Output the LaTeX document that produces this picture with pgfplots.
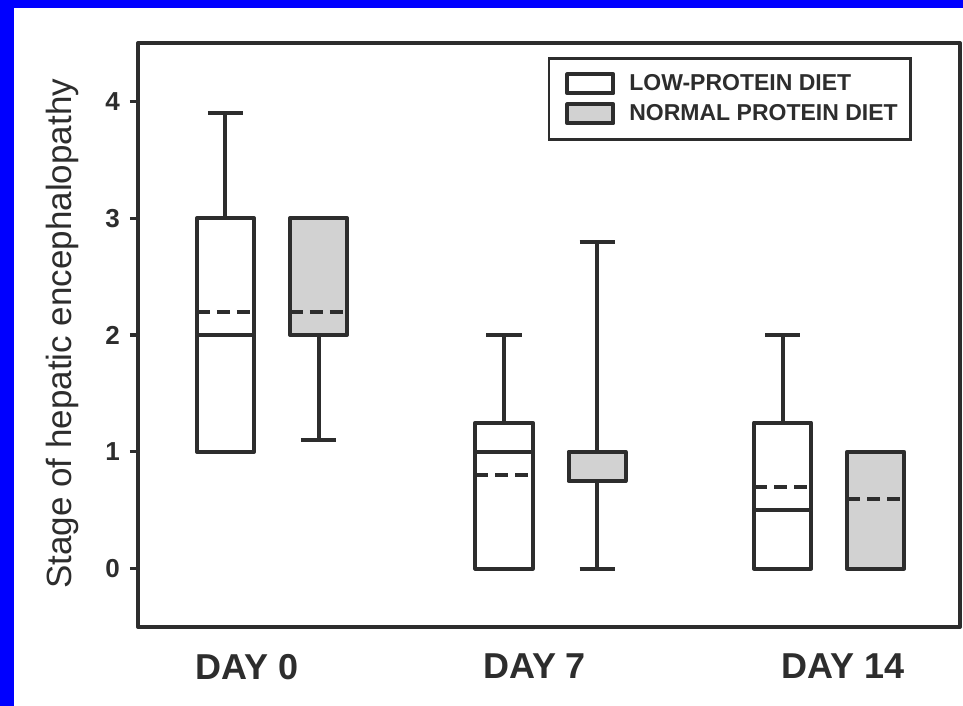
\documentclass[border=0pt]{standalone}
\usepackage{fontspec}
\setmainfont{Liberation Sans}
\usepackage{pgfplots}
\pgfplotsset{compat=1.18}
\usepgfplotslibrary{statistics}
\definecolor{ink}{RGB}{45,45,45}
\definecolor{boxfill}{RGB}{210,210,210}
\definecolor{frameblue}{RGB}{0,0,255}
\begin{document}
\begin{tikzpicture}
\fill[white] (-69pt,-39.5pt) rectangle (412.5pt,313.5pt);
\fill[frameblue] (-69pt,-39.5pt) rectangle (-62pt,313.5pt);
\fill[frameblue] (-69pt,309.5pt) rectangle (412.5pt,313.5pt);
\begin{axis}[
  at={(0,0)}, anchor=south west,
  scale only axis, width=411pt, height=292pt,
  xmin=-0.481, xmax=2.470, ymin=-0.5, ymax=4.5,
  axis line style={draw=ink, line width=2pt, line join=round},
  xtick={-0.09,0.943,2.05}, xticklabels={DAY 0, DAY 7, DAY 14},
  ytick={0,1,2,3,4},
  ytick pos=left,
  tick align=outside, major tick length=4pt,
  xtick style={draw=none},
  ytick style={draw=ink, line width=1.6pt},
  yticklabel style={font=\bfseries\fontsize{13}{15}\selectfont, text=ink, xshift=-1.5pt},
  xticklabel style={font=\bfseries\fontsize{18}{21}\selectfont, text=ink, yshift=-6pt},
  /pgf/number format/assume math mode=true,
  ylabel={Stage of hepatic encephalopathy},
  ylabel style={font=\fontsize{17.5}{20}\selectfont, text=ink, at={(axis description cs:-0.0925,0.502)}, anchor=center},
  boxplot/draw direction=y,
  clip=false,
  legend cell align=left,
  legend style={at={(0.9416,0.976)}, anchor=north east, draw=ink, line width=1.3pt, fill=white,
    font=\bfseries\fontsize{11.5}{13.5}\selectfont, text=ink, inner xsep=4.5pt, inner ysep=6pt, row sep=1.5pt,
    /tikz/every odd column/.append style={column sep=5pt}},
]
\addlegendimage{legend image code/.code={\path (-4pt,0pt); \draw[line width=2pt, draw=ink, fill=white, line join=round] (0pt,-4.75pt) rectangle (23pt,4.75pt);}}
\addlegendentry{LOW-PROTEIN DIET}
\addlegendimage{legend image code/.code={\path (-4pt,0pt); \draw[line width=2pt, draw=ink, fill=boxfill, line join=round] (0pt,-4.75pt) rectangle (23pt,4.75pt);}}
\addlegendentry{NORMAL PROTEIN DIET}

% DAY 0
\addplot[forget plot, draw=ink, fill=white, line width=2pt, line join=round,
  boxplot prepared={draw position=-0.167, lower whisker=1, lower quartile=1, median=2, upper quartile=3, upper whisker=3.9, box extend=0.205, whisker extend=0.126}] coordinates {};
\addplot[forget plot, draw=ink, fill=boxfill, line width=2pt, line join=round,
  boxplot prepared={draw position=0.167, lower whisker=1.1, lower quartile=2, median=2, upper quartile=3, upper whisker=3, box extend=0.205, whisker extend=0.126}] coordinates {};
% DAY 7
\addplot[forget plot, draw=ink, fill=white, line width=2pt, line join=round,
  boxplot prepared={draw position=0.833, lower whisker=0, lower quartile=0, median=1, upper quartile=1.25, upper whisker=2, box extend=0.205, whisker extend=0.126}] coordinates {};
\addplot[forget plot, draw=ink, fill=boxfill, line width=2pt, line join=round,
  boxplot prepared={draw position=1.167, lower whisker=0, lower quartile=0.75, median=1, upper quartile=1, upper whisker=2.8, box extend=0.205, whisker extend=0.126}] coordinates {};
% DAY 14
\addplot[forget plot, draw=ink, fill=white, line width=2pt, line join=round,
  boxplot prepared={draw position=1.833, lower whisker=0, lower quartile=0, median=0.5, upper quartile=1.25, upper whisker=2, box extend=0.205, whisker extend=0.126}] coordinates {};
\addplot[forget plot, draw=ink, fill=boxfill, line width=2pt, line join=round,
  boxplot prepared={draw position=2.167, lower whisker=0, lower quartile=0, median=0, upper quartile=1, upper whisker=1, box extend=0.205, whisker extend=0.126}] coordinates {};

% means (dashed)
\addplot[forget plot, draw=ink, line width=2pt, dash pattern=on 6.5pt off 3.5pt] coordinates {(-0.2695,2.2) (-0.0645,2.2)};
\addplot[forget plot, draw=ink, line width=2pt, dash pattern=on 6.5pt off 3.5pt] coordinates {(0.0645,2.2) (0.2695,2.2)};
\addplot[forget plot, draw=ink, line width=2pt, dash pattern=on 6.5pt off 3.5pt] coordinates {(0.7305,0.8) (0.9355,0.8)};
\addplot[forget plot, draw=ink, line width=2pt, dash pattern=on 6.5pt off 3.5pt] coordinates {(1.7305,0.7) (1.9355,0.7)};
\addplot[forget plot, draw=ink, line width=2pt, dash pattern=on 6.5pt off 3.5pt] coordinates {(2.0645,0.6) (2.2695,0.6)};
\end{axis}
\pgfresetboundingbox
\path[use as bounding box] (-69pt,-39.5pt) rectangle (412.5pt,313.5pt);
\end{tikzpicture}
\end{document}
